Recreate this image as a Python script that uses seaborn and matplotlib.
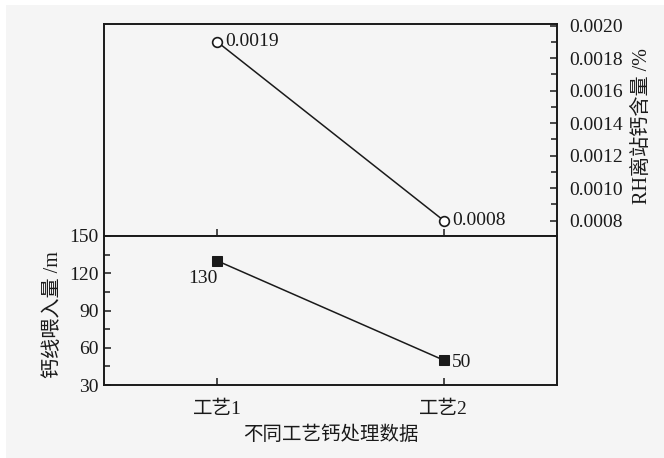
import numpy as np
import pandas as pd
import seaborn as sns
import matplotlib
matplotlib.use("Agg")
import matplotlib.pyplot as plt
from matplotlib.ticker import MultipleLocator, FixedLocator
from matplotlib.patches import Rectangle

# data
categories = ["工艺1", "工艺2"]
ca_content = [0.0019, 0.0008]      # RH离站钙含量 /%
wire_feed = [130, 50]              # 钙线喂入量 /m

sns.set_theme(style="white")
plt.rcParams["font.family"] = ["Liberation Serif", "Noto Sans CJK SC"]
plt.rcParams["axes.unicode_minus"] = False

bg = "#f5f5f5"
ink = "#1a1a1a"
fig = plt.figure(figsize=(6.64, 4.58), dpi=100, facecolor=bg)
# thin white margin along the top and left edges
fig.patches.append(Rectangle((0, 0), 6 / 664, 1, transform=fig.transFigure,
                             facecolor="white", edgecolor="none", zorder=-1))
fig.patches.append(Rectangle((0, 1 - 5 / 458), 1, 5 / 458, transform=fig.transFigure,
                             facecolor="white", edgecolor="none", zorder=-1))

left, right = 104 / 664, 557 / 664
y_top, y_mid, y_bot = 1 - 24 / 458, 1 - 236 / 458, 1 - 385 / 458
ax_top = fig.add_axes([left, y_mid, right - left, y_top - y_mid])
ax_bot = fig.add_axes([left, y_bot, right - left, y_mid - y_bot], sharex=ax_top)

pos = np.arange(len(categories))
df = pd.DataFrame({"pos": pos, "cat": categories,
                   "ca": ca_content, "wire": wire_feed})

sns.lineplot(data=df, x="pos", y="ca", ax=ax_top, color=ink, lw=1.1,
             marker="o", markersize=7, markerfacecolor="white",
             markeredgecolor=ink, markeredgewidth=1.2)
sns.lineplot(data=df, x="pos", y="wire", ax=ax_bot, color=ink, lw=1.1,
             marker="s", markersize=6.8, markerfacecolor=ink,
             markeredgecolor=ink)

for ax in (ax_top, ax_bot):
    ax.set_facecolor(bg)
    for s in ax.spines.values():
        s.set_color(ink)
        s.set_linewidth(1.4)
    ax.set_xlim(-0.5, 1.5)
    ax.set_xlabel("")
    ax.set_ylabel("")

# top panel: calcium content on the right axis
ax_top.set_ylim(0.000705, 0.00201)
ax_top.yaxis.tick_right()
ax_top.yaxis.set_label_position("right")
ax_top.yaxis.set_major_locator(FixedLocator([0.0008, 0.0010, 0.0012, 0.0014,
                                             0.0016, 0.0018, 0.0020]))
ax_top.yaxis.set_minor_locator(FixedLocator([0.0009, 0.0011, 0.0013, 0.0015,
                                             0.0017, 0.0019]))
ax_top.yaxis.set_major_formatter(plt.FuncFormatter(lambda v, p: f"{v:.4f}"))
ax_top.tick_params(axis="y", which="both", direction="in", right=True, left=False,
                   labelright=True, labelleft=False, length=5, width=1.1,
                   color=ink, labelsize=14, labelcolor=ink, pad=9)
ax_top.tick_params(axis="y", which="minor", length=4)
ax_top.set_xticks(pos)
ax_top.tick_params(axis="x", which="both", direction="in", bottom=True, top=False,
                   labelbottom=False, length=5, width=1.1, color=ink)
ax_top.set_ylabel("RH离站钙含量 /%", fontsize=14.5, color=ink)
ax_top.yaxis.set_label_coords(1.167, 0.52)

for x, v in zip(pos, ca_content):
    ax_top.annotate(f"{v:.4f}", (x, v), xytext=(6, 0), textcoords="offset points",
                    ha="left", va="center", fontsize=14, color=ink)

# bottom panel: calcium wire feed on the left axis
ax_bot.set_ylim(30, 150)
ax_bot.yaxis.set_major_locator(MultipleLocator(30))
ax_bot.yaxis.set_minor_locator(MultipleLocator(15))
ax_bot.tick_params(axis="y", which="both", direction="in", left=True, right=False,
                   labelleft=True, length=5, width=1.1, color=ink,
                   labelsize=14, labelcolor=ink, pad=4)
ax_bot.tick_params(axis="y", which="minor", length=4)
ax_bot.set_xticks(pos)
ax_bot.set_xticklabels(categories)
ax_bot.tick_params(axis="x", which="both", direction="in", bottom=True, top=False,
                   length=5, width=1.1, color=ink, labelsize=14, labelcolor=ink,
                   pad=11)
ax_bot.set_ylabel("钙线喂入量 /m", fontsize=14.5, color=ink)
ax_bot.yaxis.set_label_coords(-0.09, 0.47)
ax_bot.set_xlabel("不同工艺钙处理数据", fontsize=14, labelpad=6, color=ink)

ax_bot.annotate(f"{wire_feed[0]}", (pos[0], wire_feed[0]), xytext=(0, -12.5),
                textcoords="offset points", ha="right", va="center",
                fontsize=14, color=ink)
ax_bot.annotate(f"{wire_feed[1]}", (pos[1], wire_feed[1]), xytext=(6, -1.5),
                textcoords="offset points", ha="left", va="center",
                fontsize=14, color=ink)

fig.savefig("out.png", dpi=100, facecolor=bg)
